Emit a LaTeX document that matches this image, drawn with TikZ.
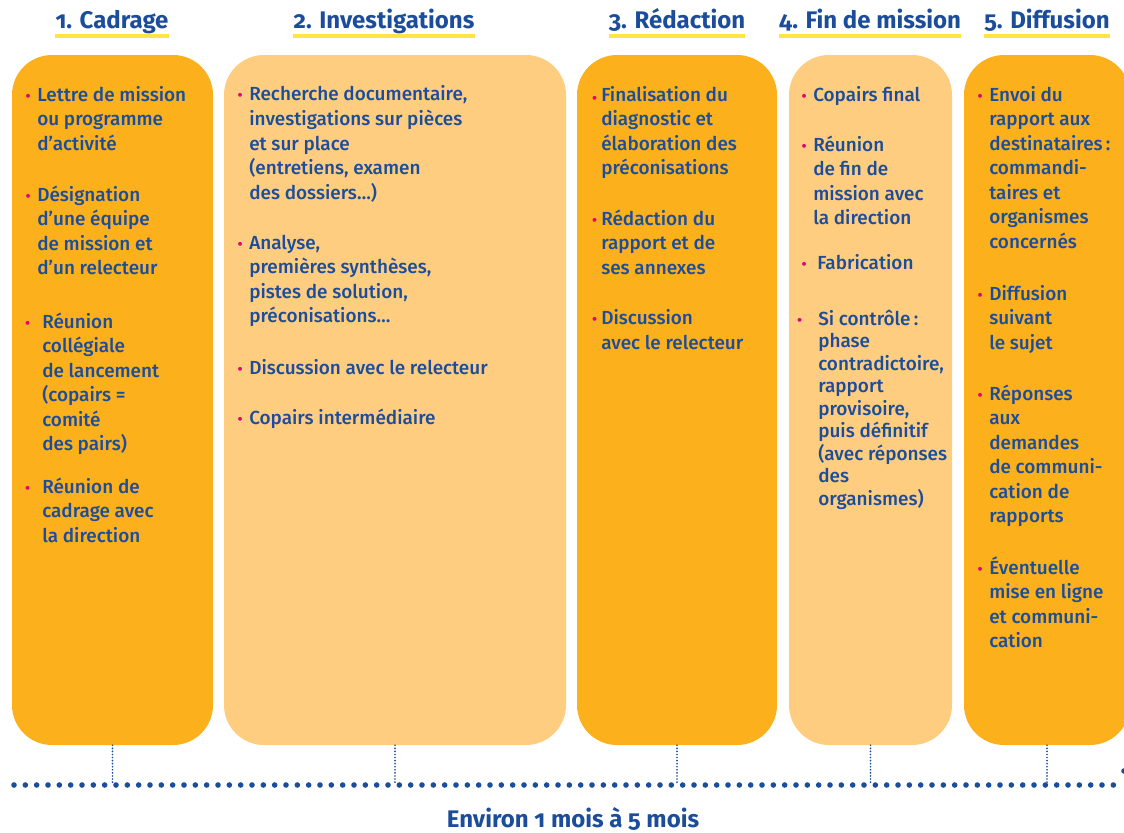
\documentclass[tikz,border=0pt]{standalone}
\usepackage{fontspec}
\usepackage{graphicx}
\setmainfont{Fira Sans}[Numbers=OldStyle, UprightFont=* Medium, BoldFont=* Bold]
\usetikzlibrary{fit}
\definecolor{orangefonce}{RGB}{251,176,28}
\definecolor{orangeclair}{RGB}{255,205,128}
\definecolor{bleu}{RGB}{27,77,155}
\definecolor{rose}{RGB}{228,0,125}
\definecolor{jaune}{RGB}{255,228,70}
\newcommand{\puce}[1][5pt]{\llap{\textcolor{rose}{\scalebox{0.8}{\textbullet}}\hspace{#1}}}
\tikzstyle{phase} = [inner sep=0, rounded corners=30pt]
\tikzstyle{head} = [inner sep=0, anchor=base, text=bleu, font=\fontsize{18}{21}\selectfont\bfseries]
% base = baseline of the last line
\tikzstyle{item} = [inner sep=0, anchor=base west, align=left, text=bleu,
                    font=\fontsize{14.2}{18.4}\selectfont]
\tikzstyle{souligne} = [draw=jaune, line width=2.4pt]
\tikzstyle{pointille} = [draw=bleu, line width=4.2pt, line cap=round, dash pattern=on 0pt off 8.5pt]
\tikzstyle{repere} = [draw=bleu, line width=1.4pt, line cap=round, dash pattern=on 0pt off 2.3pt]

\begin{document}
\begin{tikzpicture}[x=0.75pt, y=-0.75pt]
					\clip (0,0) rectangle (1124,832);

					% phases
					\node (CadrageBox) [phase, fill=orangefonce, fit={(12,55) (213,745)}] {};
					\node (InvestBox) [phase, fill=orangeclair, fit={(224,55) (566,745)}] {};
					\node (RedacBox) [phase, fill=orangefonce, fit={(577,55) (777,745)}] {};
					\node (FinBox) [phase, fill=orangeclair, fit={(789,55) (952,745)}] {};
					\node (DiffBox) [phase, fill=orangefonce, fit={(964,55) (1130,745)}] {};

					% titles
					\node (CadrageHead) [head] at (112, 28.5) {1. Cadrage};
					\node (InvestHead) [head] at (384, 28.5) {2. Investigations};
					\node (RedacHead) [head] at (677, 28.5) {3. Rédaction};
					\node (FinHead) [head] at (870, 28.5) {4. Fin de mission};
					\node (DiffHead) [head] at (1047, 28.5) {5. Diffusion};
					\draw[souligne] ([yshift=-5.6pt]CadrageHead.base west) -- ([yshift=-5.6pt]CadrageHead.base east);
					\draw[souligne] ([yshift=-5.6pt]InvestHead.base west) -- ([yshift=-5.6pt]InvestHead.base east);
					\draw[souligne] ([yshift=-5.6pt]RedacHead.base west) -- ([yshift=-5.6pt]RedacHead.base east);
					\draw[souligne] ([yshift=-5.6pt]FinHead.base west) -- ([yshift=-5.6pt]FinHead.base east);
					\draw[souligne] ([yshift=-5.6pt]DiffHead.base west) -- ([yshift=-5.6pt]DiffHead.base east);

					% 1. Cadrage
					\node (CadrageLettre) [item] at (37, 150.1) {\puce Lettre de mission\\ou programme\\d’activité};
					\node (CadrageEquipe) [item] at (37, 274.6) {\puce Désignation\\d’une équipe\\de mission et\\d’un relecteur};
					\node (CadrageLancement) [item] at (42, 450.7) {\puce[9pt]Réunion\\collégiale\\de lancement\\(copairs =\\comité\\des pairs)};
					\node (CadrageDirection) [item] at (42, 542.1) {\puce[9pt]Réunion de\\cadrage avec\\la direction};

					% 2. Investigations
					\node (InvestRecherche) [item] at (249, 199.1) {\puce Recherche documentaire,\\investigations sur pièces\\et sur place\\(entretiens, examen\\des dossiers…)};
					\node (InvestAnalyse) [item] at (249, 322.6) {\puce Analyse,\\premières synthèses,\\pistes de solution,\\préconisations…};
					\node (InvestDiscussion) [item] at (249, 374) {\puce Discussion avec le relecteur};
					\node (InvestCopairs) [item] at (249, 424) {\puce Copairs intermédiaire};

					% 3. Redaction
					\node (RedacFinal) [item] at (601, 174.6) {\llap{\textcolor{rose}{\scalebox{0.8}{\raisebox{-2.5pt}{\textbullet}}}\hspace{3pt}}Finalisation du\\diagnostic et\\élaboration des\\préconisations};
					\node (RedacRapport) [item] at (601, 274.1) {\puce[3pt]Rédaction du\\rapport et de\\ses annexes};
					\node (RedacDiscussion) [item] at (601, 349.5) {\puce[3pt]Discussion\\avec le relecteur};

					% 4. Fin de mission
					\node (FinCopairs) [item] at (813, 101) {\puce Copairs final};
					\node (FinReunion) [item] at (813, 224.6) {\puce Réunion\\de fin de\\mission avec\\la direction};
					\node (FinFabrication) [item] at (817, 269) {\puce[8pt]Fabrication};
					\node (FinControle) [item, font=\fontsize{14.2}{16.9}\selectfont] at (818, 505.3)
						{\puce[12pt]Si contrôle\,:\\phase\\contradictoire,\\rapport\\provisoire,\\puis définitif\\(avec réponses\\des\\organismes)};

					% 5. Diffusion
					\node (DiffEnvoi) [item] at (989, 248.2) {\puce Envoi du\\rapport aux\\destinataires\,:\\commandi-\\taires et\\organismes\\concernés};
					\node (DiffSujet) [item] at (989, 349.1) {\puce Diffusion\\suivant\\le sujet};
					\node (DiffReponses) [item] at (989, 522.7) {\puce Réponses\\aux\\demandes\\de communi-\\cation de\\rapports};
					\node (DiffLigne) [item] at (989, 647.6) {\puce Éventuelle\\mise en ligne\\et communi-\\cation};

					% time line
					\coordinate (AxeG) at (14, 785);
					\coordinate (AxeD) at (1124, 785);
					\coordinate (PointeHaut) at (1124, 771);
					\coordinate (Pointe) at (1138, 785);
					\coordinate (PointeBas) at (1124, 799);
					\draw[pointille] (AxeG) -- (AxeD);
					\draw[pointille] (PointeHaut) -- (Pointe) -- (PointeBas);
					\draw[repere] (CadrageBox.south) -- (CadrageBox.south |- AxeG);
					\draw[repere] (InvestBox.south) -- (InvestBox.south |- AxeG);
					\draw[repere] (RedacBox.south) -- (RedacBox.south |- AxeG);
					\draw[repere] (FinBox.south) -- (FinBox.south |- AxeG);
					\draw[repere] (DiffBox.south) -- (DiffBox.south |- AxeG);

					\node (Duree) [head, font=\fontsize{18}{21}\selectfont\bfseries] at (573, 827) {Environ 1 mois à 5 mois};
				\end{tikzpicture}
\end{document}
